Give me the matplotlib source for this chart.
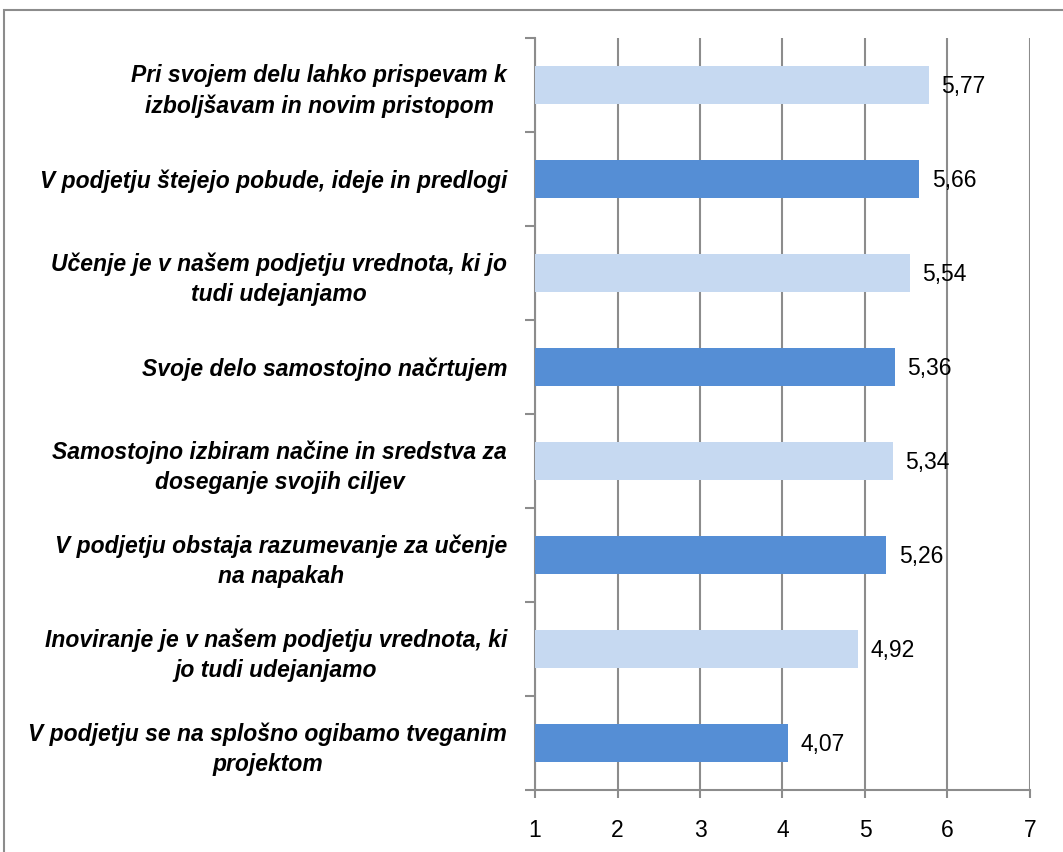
import matplotlib
matplotlib.use("Agg")
import matplotlib.pyplot as plt
from matplotlib.patches import Rectangle

# ----- data (top to bottom as in the chart) -----
labels = [
    "Pri svojem delu lahko prispevam k\nizboljšavam in novim pristopom",
    "V podjetju štejejo pobude, ideje in predlogi",
    "Učenje je v našem podjetju vrednota, ki jo\ntudi udejanjamo",
    "Svoje delo samostojno načrtujem",
    "Samostojno izbiram načine in sredstva za\ndoseganje svojih ciljev",
    "V podjetju obstaja razumevanje za učenje\nna napakah",
    "Inoviranje je v našem podjetju vrednota, ki\njo tudi udejanjamo",
    "V podjetju se na splošno ogibamo tveganim\nprojektom",
]
values = [5.77, 5.66, 5.54, 5.36, 5.34, 5.26, 4.92, 4.07]
value_text = ["5,77", "5,66", "5,54", "5,36", "5,34", "5,26", "4,92", "4,07"]
x_ticks = [1, 2, 3, 4, 5, 6, 7]

light = "#C6D9F1"
dark = "#558ED5"
colors = [light if i % 2 == 0 else dark for i in range(len(values))]

plt.rcParams['font.family'] = ['Liberation Sans', 'DejaVu Sans']

fig = plt.figure(figsize=(10.63, 8.52), dpi=100)
ax = fig.add_axes([535 / 1063, 1 - 790 / 852, (1030 - 535) / 1063, (790 - 38) / 852])

# outer chart frame
fig.patches.append(Rectangle((4 / 1063, -0.01), 1.05, 1 - 10 / 852 + 0.01,
                             transform=fig.transFigure, fill=False,
                             edgecolor="#8c8c8c", linewidth=1.5))

n = len(values)
ypos = list(range(n - 1, -1, -1))
ax.barh(ypos, [v - 1 for v in values], left=1, height=0.4, color=colors, zorder=3)

for y, v, t in zip(ypos, values, value_text):
    ax.text(v + 0.15, y - 0.02, t, va="center", ha="left", fontsize=16.5, zorder=4)

ax.set_xlim(1, 7)
ax.set_ylim(-0.5, n - 0.5)
ax.set_xticks(x_ticks)
ax.set_xticklabels([str(x) for x in x_ticks], fontsize=16.5)
ax.xaxis.grid(True, color="#8c8c8c", linewidth=1.5, zorder=0)

ax.set_yticks(ypos)
ax.set_yticklabels(labels, fontsize=16.5, fontweight="bold", fontstyle="italic",
                   ha="right", multialignment="center", linespacing=1.4)
ax.tick_params(axis="y", length=0, pad=20)
ax.set_yticks([i - 0.5 for i in range(n + 1)], minor=True)
ax.tick_params(axis="y", which="minor", length=7, color="#8c8c8c", width=1.5)
ax.tick_params(axis="x", length=6, color="#8c8c8c", width=1.5, pad=15)

for s in ["top", "right"]:
    ax.spines[s].set_visible(False)
for s in ["left", "bottom"]:
    ax.spines[s].set_color("#8c8c8c")
    ax.spines[s].set_linewidth(1.5)

fig.savefig("out.png", dpi=100)
